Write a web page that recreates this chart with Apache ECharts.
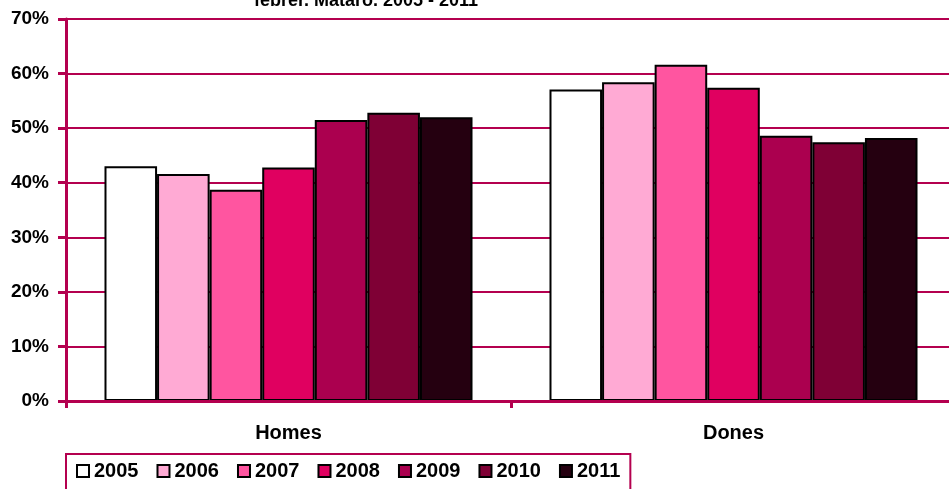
<!DOCTYPE html>
<html lang="ca">
<head>
    <meta charset="UTF-8">
    <title>febrer. Mataró. 2005 - 2011</title>
    <script src="https://cdn.jsdelivr.net/npm/echarts@6/dist/echarts.min.js"></script>
    <style>
        html, body { margin: 0; padding: 0; background: #fff; }
        #main { width: 949px; height: 489px; }
    </style>
</head>
<body>
<div id="main"></div>
<script type="text/javascript">
    // dades
    var categories = ['Homes', 'Dones'];
    var years = ['2005', '2006', '2007', '2008', '2009', '2010', '2011'];
    var homes = [43.0, 41.6, 38.7, 42.8, 51.5, 52.8, 52.0];
    var dones = [57.1, 58.4, 61.6, 57.4, 48.6, 47.4, 48.2];
    var colors = ['#ffffff', '#ffaad4', '#ff55a0', '#e00060', '#ab004f', '#7f0035', '#250010'];

    var axisColor = '#b4004f';
    var font = 'Liberation Sans, Arial, sans-serif';

    var series = [];
    for (var i = 0; i < years.length; i++) {
        series.push({
            name: years[i],
            type: 'bar',
            barGap: 0,
            barCategoryGap: '17.3%',
            data: [homes[i], dones[i]],
            itemStyle: { color: colors[i], borderColor: '#000', borderWidth: 2 }
        });
    }

    var chart = echarts.init(document.getElementById('main'));
    chart.setOption({
        animation: false,
        title: {
            text: 'febrer. Mataró. 2005 - 2011',
            left: 361,
            textAlign: 'center',
            top: -13,
            textStyle: { fontFamily: font, fontSize: 18, fontWeight: 'bold', color: '#000' }
        },
        grid: { left: 66, top: 19, width: 890, bottom: 88, outerBoundsMode: 'none', containLabel: false },
        legend: {
            data: years,
            left: 66,
            top: 454,
            orient: 'horizontal',
            borderColor: axisColor,
            borderWidth: 2,
            padding: [7, 10, 40, 10],
            itemGap: 18,
            itemWidth: 12,
            itemHeight: 12,
            icon: 'rect',
            itemStyle: { borderColor: '#000', borderWidth: 2 },
            textStyle: { fontFamily: font, fontSize: 20, fontWeight: 'bold', color: '#000' }
        },
        xAxis: {
            type: 'category',
            data: categories,
            axisLine: { lineStyle: { color: axisColor, width: 3 } },
            axisTick: { show: true, length: 7, lineStyle: { color: axisColor, width: 3 } },
            axisLabel: { margin: 22, fontFamily: font, fontSize: 20, fontWeight: 'bold', color: '#000' },
            z: 5
        },
        yAxis: {
            type: 'value',
            min: 0,
            max: 70,
            interval: 10,
            axisLine: { show: true, lineStyle: { color: axisColor, width: 3 } },
            axisTick: { show: true, length: 8, lineStyle: { color: axisColor, width: 3 } },
            axisLabel: { margin: 17, formatter: '{value}%', fontFamily: font, fontSize: 19, fontWeight: 'bold', color: '#000' },
            splitLine: { lineStyle: { color: axisColor, width: 2 } }
        },
        series: series
    });
</script>
</body>
</html>
